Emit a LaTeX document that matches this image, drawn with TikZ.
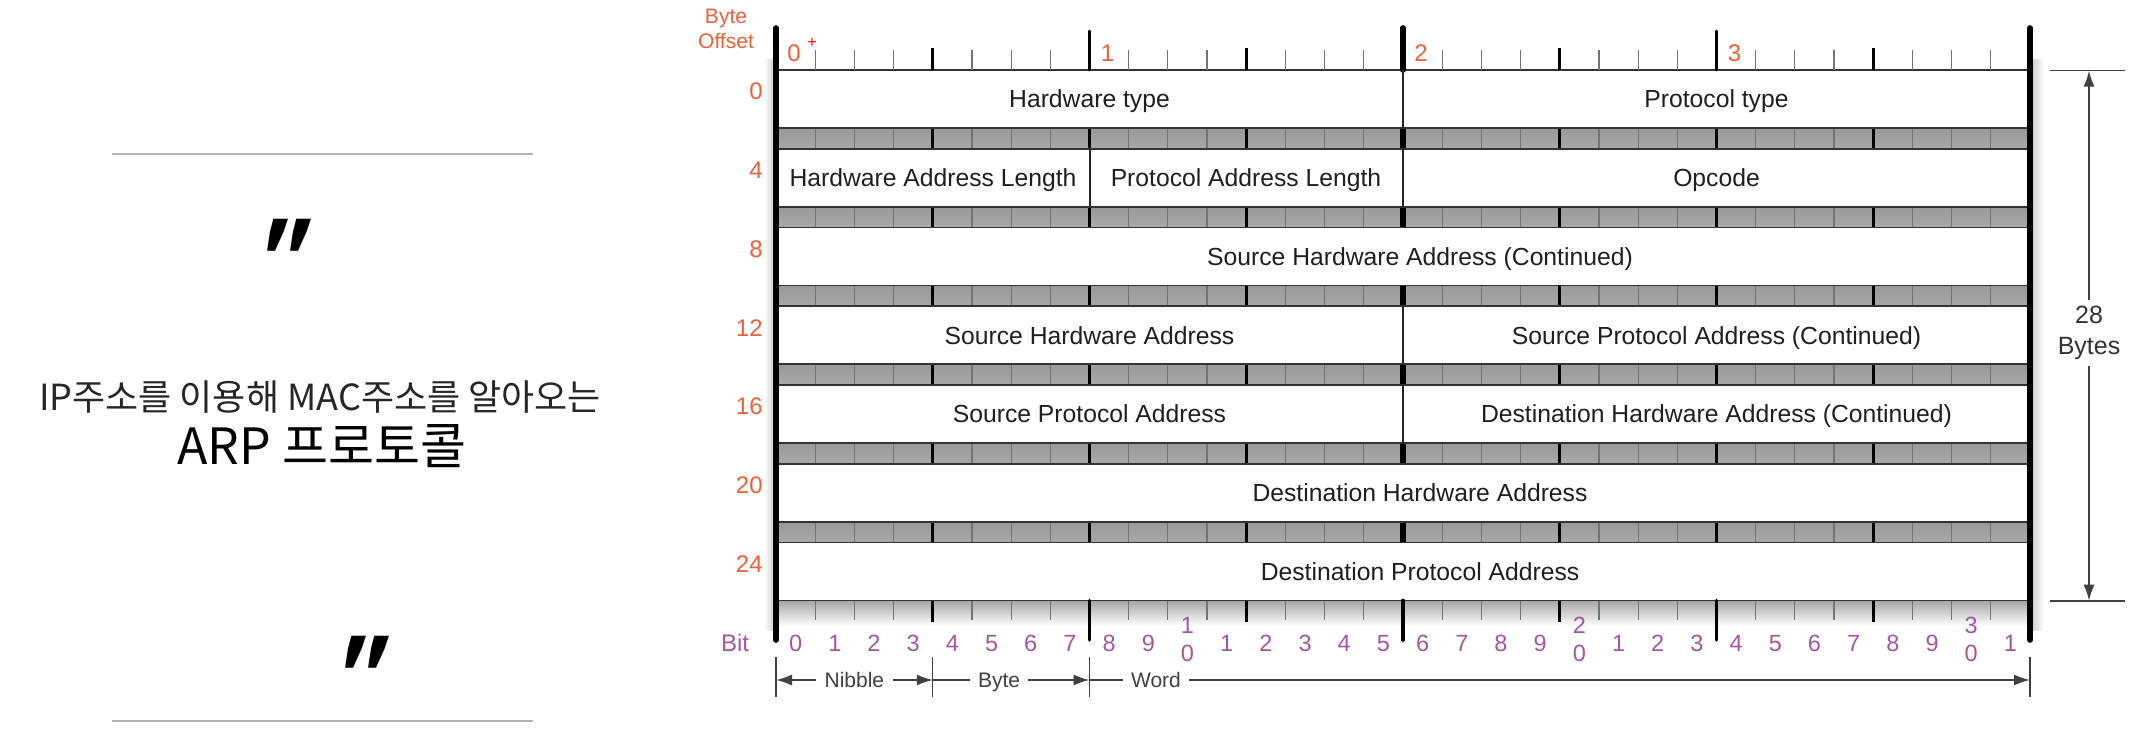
\documentclass[tikz,border=0pt]{standalone}
\usepackage{fontspec}
\setmainfont{Liberation Sans}
\newfontfamily\krfont{Noto Sans CJK KR}
\newfontfamily\quotefont[FakeSlant=0.3, Ligatures=TeXOff]{Noto Sans CJK KR}
\usetikzlibrary{arrows.meta}
\definecolor{offsetred}{RGB}{240,96,56}
\definecolor{bitpurple}{RGB}{165,85,165}
\tikzstyle{field} = [font=\fontsize{12.35}{14}\selectfont, text=black!88, text depth=0pt]
\tikzstyle{offset} = [font=\fontsize{12}{14}\selectfont, text=offsetred, text depth=0pt, inner sep=0pt]
\tikzstyle{bitnum} = [font=\fontsize{11.75}{14}\selectfont, text=bitpurple, text depth=0pt, inner sep=0pt]
\tikzstyle{dimlabel} = [font=\fontsize{10.5}{12}\selectfont, text=black!75, text depth=0pt, inner sep=4pt]
\tikzstyle{dimline} = [draw=black!75, line width=0.8pt]
\tikzstyle{dimarrow} = [dimline, -{Latex[length=8pt,width=5.5pt]}]
\tikzstyle{bar} = [draw=black, line width=2.8pt, line cap=round]
\tikzstyle{band} = [top color=black!40, middle color=black!12, bottom color=black!34]
\tikzstyle{quote} = [font=\quotefont\bfseries\fontsize{41}{41}\selectfont, anchor=base, inner sep=0pt]

\begin{document}
\begin{tikzpicture}[x=0.5pt, y=-0.5pt]
  \useasboundingbox (0,0) rectangle (2137,732);
  \fill[white] (0,0) rectangle (2137,732);

  % Left panel
  \draw[black!30, line width=1pt] (112,154) -- (533,154);
  \draw[black!30, line width=1pt] (112,721) -- (533,721);
  \node[quote] (qopen) at (273,284) {"};
  \node[quote] (qclose) at (351,700) {"};
  \node[font=\krfont\fontsize{18}{20}\selectfont, text=black!85, anchor=base] (subtitle) at (320,411) {IP주소를 이용해 MAC주소를 알아오는};
  \node[font=\krfont\fontsize{25}{28}\selectfont, anchor=base] (title) at (322,465) {ARP 프로토콜};

  % Byte offset header
  \node[font=\fontsize{10.5}{12.5}\selectfont, text=offsetred, align=center] (byteoffset) at (726,29) {Byte\\Offset};
  \foreach \n in {0,...,3}
    \node[offset, anchor=west] (byte\n) at (787+\n*313.5,53) {\n};
  \node[text=red, font=\fontsize{8}{8}\selectfont, inner sep=0pt] (cursor) at (812,43) {+};

  % Shadows beside the frame
  \shade[left color=white, right color=black!22] (764,60) rectangle (776,630);
  \shade[left color=black!22, right color=white] (2030,60) rectangle (2044,630);

  % Bands between the rows
  \foreach \k in {0,...,5} {
    \pgfmathsetmacro\bt{128+\k*78.75}
    \shade[band] (776,\bt) rectangle (2030,\bt+20.75);
    \foreach \b in {1,...,31}
      \draw[black!55, line width=0.6pt] (776+\b*39.1875,\bt) -- (776+\b*39.1875,\bt+20.75);
    \foreach \b in {4,8,12,20,24,28}
      \draw[black, line width=1.3pt] (776+\b*39.1875,\bt) -- (776+\b*39.1875,\bt+20.75);
    \draw[black, line width=2.8pt] (1403,\bt) -- (1403,\bt+20.75);
    \draw[black!80, line width=0.8pt] (776,\bt) -- (2030,\bt) (776,\bt+20.75) -- (2030,\bt+20.75);
  }

  % Top ruler
  \draw[black!80, line width=0.8pt] (776,70) -- (2030,70);
  \foreach \b in {1,...,31}
    \draw[black!55, line width=0.6pt] (776+\b*39.1875,50) -- (776+\b*39.1875,70);
  \foreach \b in {4,12,20,28}
    \draw[black, line width=1.3pt] (776+\b*39.1875,48) -- (776+\b*39.1875,70);
  \foreach \b in {8,24}
    \draw[black, line width=1.3pt, line cap=round] (776+\b*39.1875,31) -- (776+\b*39.1875,70);
  \draw[bar] (1403,28) -- (1403,70);

  % Bottom ruler
  \shade[top color=black!35, bottom color=white] (776,600.5) rectangle (2030,626);
  \draw[black!80, line width=0.8pt] (776,600.5) -- (2030,600.5);
  \foreach \b in {1,...,31}
    \draw[black!55, line width=0.6pt] (776+\b*39.1875,600.5) -- (776+\b*39.1875,620);
  \foreach \b in {4,12,20,28}
    \draw[black, line width=1.3pt] (776+\b*39.1875,600.5) -- (776+\b*39.1875,622);
  \foreach \b in {8,16,24}
    \draw[black, line width=1.8pt, line cap=round] (776+\b*39.1875,600.5) -- (776+\b*39.1875,640);

  % Field dividers
  \foreach \k/\b in {0/16, 1/8, 1/16, 3/16, 4/16}
    \draw[black!85, line width=1pt] (776+\b*39.1875,70+\k*78.75) -- (776+\b*39.1875,128+\k*78.75);
  \draw[bar] (776,28) -- (776,640);
  \draw[bar] (2030,28) -- (2030,640);

  % Fields
  \node[field] (hwtype) at (1089.5,99) {Hardware type};
  \node[field] (ptype) at (1716.5,99) {Protocol type};
  \node[field] (hwlen) at (933,177.75) {Hardware Address Length};
  \node[field] (plen) at (1246,177.75) {Protocol Address Length};
  \node[field] (opcode) at (1716.5,177.75) {Opcode};
  \node[field] (shacont) at (1420,256.5) {Source Hardware Address (Continued)};
  \node[field] (sha) at (1089.5,335.25) {Source Hardware Address};
  \node[field] (spacont) at (1716.5,335.25) {Source Protocol Address (Continued)};
  \node[field] (spa) at (1089.5,414) {Source Protocol Address};
  \node[field] (dhacont) at (1716.5,414) {Destination Hardware Address (Continued)};
  \node[field] (dha) at (1420,492.75) {Destination Hardware Address};
  \node[field] (dpa) at (1420,571.5) {Destination Protocol Address};

  % Row offsets
  \foreach \k in {0,...,6} {
    \pgfmathtruncatemacro\off{4*\k}
    \node[offset, anchor=east] (row\off) at (763,91.5+\k*78.75) {\off};
  }

  % Bit numbers
  \node[bitnum, font=\fontsize{12}{14}\selectfont] (bitlabel) at (735,643) {Bit};
  \foreach \i in {0,...,31} {
    \pgfmathtruncatemacro\units{mod(\i,10)}
    \pgfmathtruncatemacro\tens{\i/10}
    \ifnum\units=0
      \ifnum\i>0
        \node[bitnum] (bit\i) at (795.6+\i*39.1875,653) {0};
        \node[bitnum] (tens\i) at (795.6+\i*39.1875,625) {\tens};
      \else
        \node[bitnum] (bit\i) at (795.6,643) {0};
      \fi
    \else
      \node[bitnum] (bit\i) at (795.6+\i*39.1875,643) {\units};
    \fi
  }

  % Nibble, byte and word widths
  \coordinate (w0) at (776,680);
  \coordinate (w4) at (932.75,680);
  \coordinate (w8) at (1089.5,680);
  \coordinate (w32) at (2030,680);
  \node[dimlabel] (nibble) at (854.4,680) {Nibble};
  \node[dimlabel] (byte) at (999,680) {Byte};
  \node[dimlabel] (word) at (1156,680) {Word};
  \draw[dimarrow] (nibble) -- (w0);
  \draw[dimarrow] (nibble) -- (w4);
  \draw[dimline] (byte) -- (w4);
  \draw[dimarrow] (byte) -- (w8);
  \draw[dimline] (word) -- (w8);
  \draw[dimarrow] (word) -- (w32);
  \foreach \c in {w0,w4,w8,w32}
    \draw[dimline, line width=0.6pt] ([yshift=11.5pt]\c) -- ([yshift=-8.5pt]\c);

  % Total length
  \coordinate (dimtop) at (2089,70.7);
  \coordinate (dimbot) at (2089,600.7);
  \draw[dimline] (2050,70.7) -- (2125,70.7);
  \draw[dimline] (2050,600.7) -- (2125,600.7);
  \node[font=\fontsize{12.5}{15.75}\selectfont, text=black!80, align=center, inner sep=3pt] (total) at (2089,333) {28\\Bytes};
  \draw[dimarrow] (total) -- (dimtop);
  \draw[dimarrow] (total) -- (dimbot);
\end{tikzpicture}
\end{document}
